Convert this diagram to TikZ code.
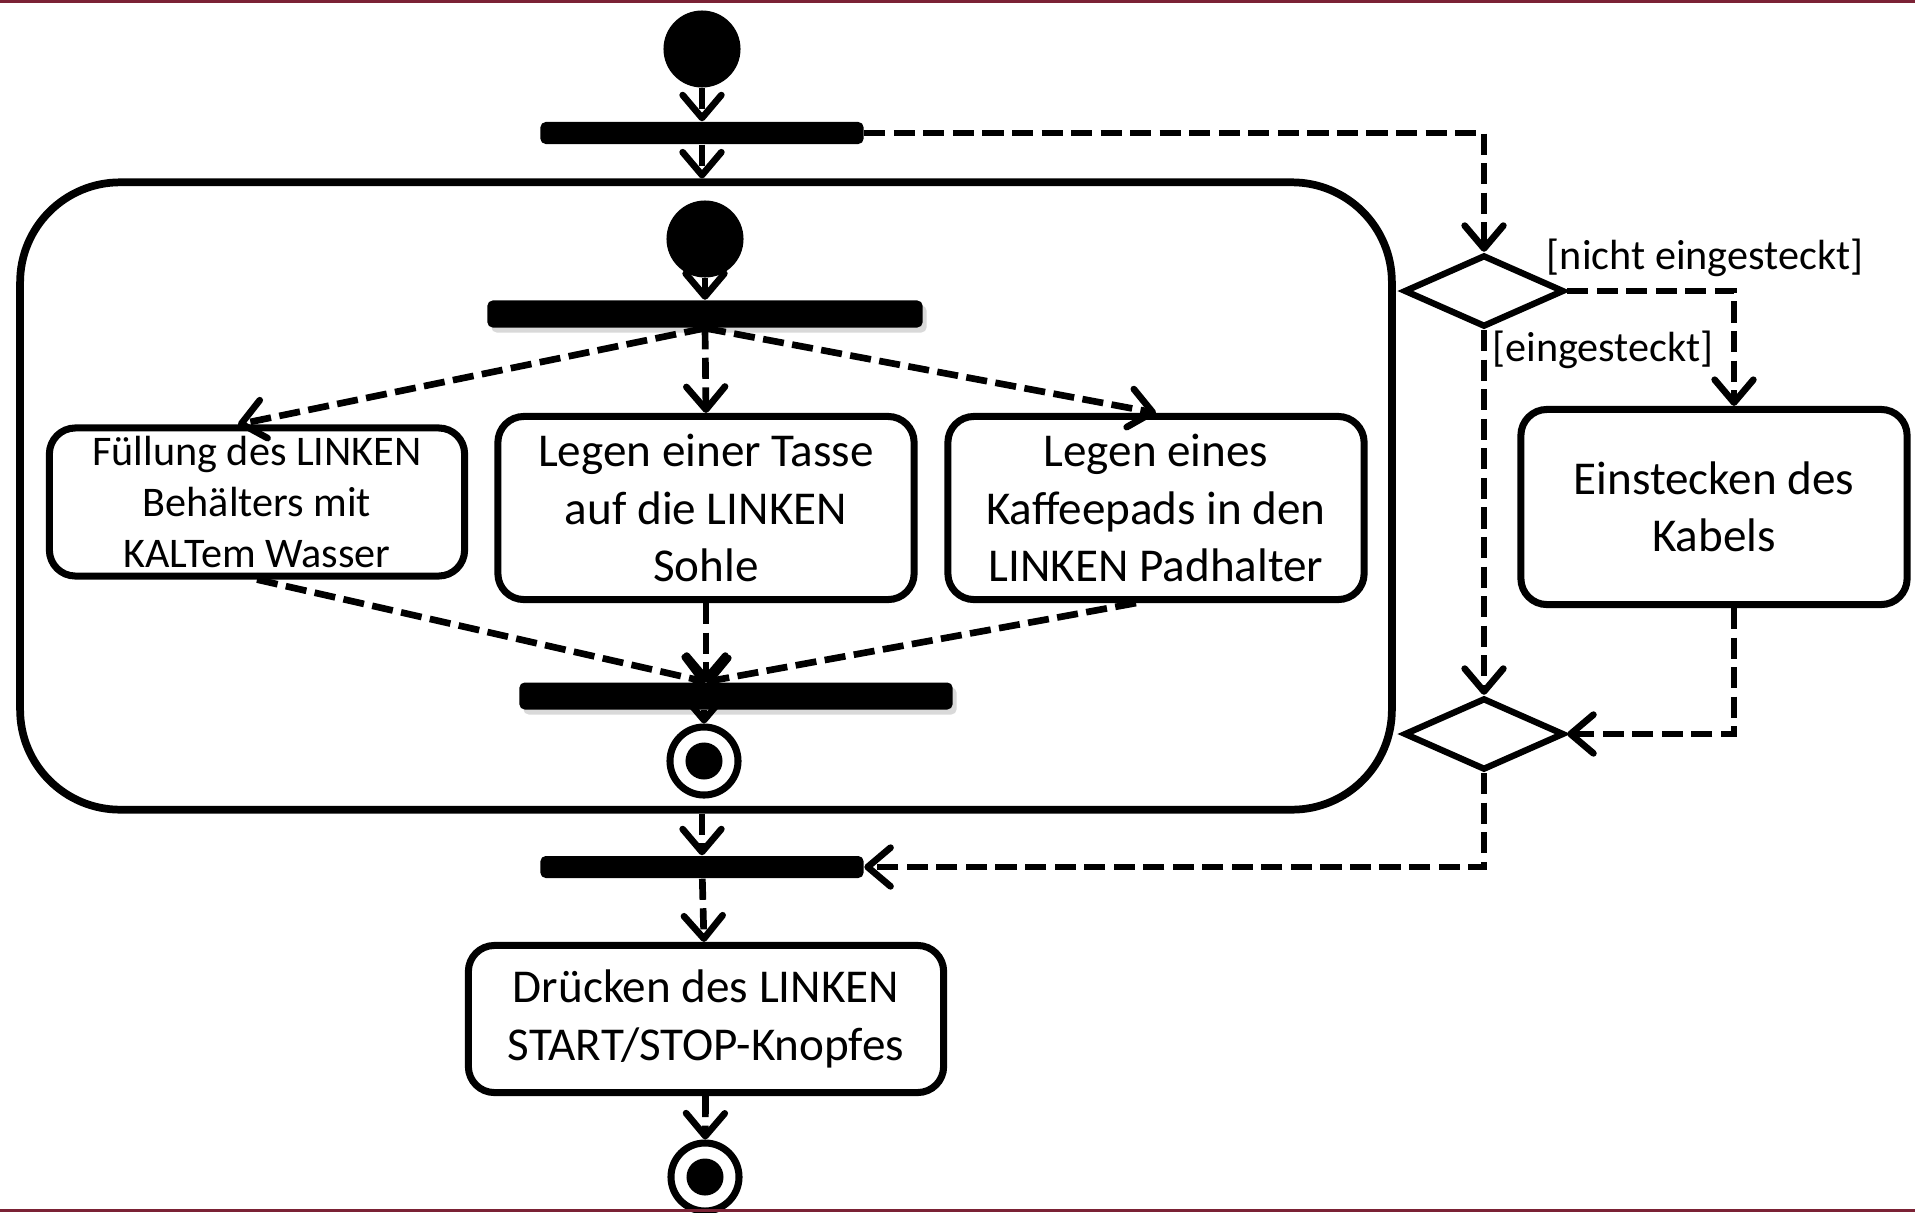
\documentclass[tikz,border=0pt]{standalone}
\usepackage{fontspec}
\setmainfont{Carlito}
\usetikzlibrary{arrows.meta,shapes.geometric,shadows}
\definecolor{framered}{RGB}{123,34,53}
\newcommand{\actsize}{\fontsize{13.4}{16.3}\selectfont}
\newcommand{\smallact}{\fontsize{12}{14.4}\selectfont}
\begin{document}
\begin{tikzpicture}[x=0.01cm,y=-0.01cm,
  action/.style={draw, line width=2pt, rounded corners=0.26cm, align=center, inner sep=0pt, font=\actsize},
  syncbar/.style={fill=black, inner sep=0pt, rounded corners=1.5pt},
  shadowbar/.style={syncbar, drop shadow={shadow xshift=0.04cm, shadow yshift=-0.05cm, opacity=0.3}},
  startdot/.style={circle, fill=black, inner sep=0pt, minimum size=0.77cm},
  enddot/.style={circle, draw, line width=2pt, inner sep=0pt, minimum size=0.68cm,
    path picture={\fill (path picture bounding box.center) circle (0.185cm);}},
  choice/.style={diamond, draw, line width=1.8pt, inner sep=0pt, minimum width=1.6cm, minimum height=0.72cm},
  guard/.style={font=\fontsize{12}{14.4}\selectfont, inner sep=0pt},
  flow/.style={line width=1.9pt, dash pattern=on 6pt off 2.4pt, -{Straight Barb[length=6.5pt,width=11pt,round]}}]
  \useasboundingbox (0,0) rectangle (1915,1212);

  \node[startdot] (start) at (702,49) {};
  \node[syncbar, minimum width=3.23cm, minimum height=0.22cm] (split) at (702,133) {};
  \node[draw, line width=2.2pt, rounded corners=1cm, minimum width=13.71cm, minimum height=6.27cm] (frame) at (706,496) {};

  \node[startdot] (start2) at (705,239) {};
  \node[shadowbar, minimum width=4.35cm, minimum height=0.27cm] (fork) at (705,314) {};
  \node[action, font=\smallact, minimum width=4.15cm, minimum height=1.48cm] (fill) at (257,502) {Füllung des LINKEN\\Behälters mit\\KALTem Wasser};
  \node[action, minimum width=4.16cm, minimum height=1.83cm] (cup) at (706,508) {Legen einer Tasse\\auf die LINKEN\\Sohle};
  \node[action, minimum width=4.16cm, minimum height=1.83cm] (pad) at (1156,508) {Legen eines\\Kaffeepads in den\\LINKEN Padhalter};
  \node[shadowbar, minimum width=4.33cm, minimum height=0.27cm] (join) at (736,696) {};
  \node[enddot] (stop1) at (704,761) {};

  \node[syncbar, minimum width=3.23cm, minimum height=0.22cm] (merge) at (702,867) {};
  \node[action, minimum width=4.75cm, minimum height=1.47cm] (press) at (706,1019) {Drücken des LINKEN\\START/STOP-Knopfes};
  \node[enddot] (stop2) at (705,1177) {};

  \node[choice] (plugcheck) at (1484,291) {};
  \node[choice] (plugdone) at (1484,734) {};
  \node[action, minimum width=3.86cm, minimum height=1.95cm] (plug) at (1714,507) {Einstecken des\\Kabels};
  \node[guard] (gno) at (1705,258) {[nicht eingesteckt]};
  \node[guard] (gyes) at (1603,350) {[eingesteckt]};

  \draw[flow] (start) -- (split);
  \draw[flow] (split) -- (split |- frame.north);
  \draw[flow] (start2) -- (fork);
  \draw[flow] (fork.south) -- ([xshift=-0.19cm]fill.north);
  \draw[flow] (fork.south) -- (cup.north);
  \draw[flow] (fork.south) -- (pad.north);
  \draw[flow] (fill.south) -- (cup |- join.north);
  \draw[flow] (cup.south) -- (cup |- join.north);
  \draw[flow] ([xshift=-0.2cm]pad.south) -- (cup |- join.north);
  \draw[flow] (stop1 |- join.south) -- (stop1);
  \draw[flow] (merge |- frame.south) -- (merge);
  \draw[flow] (merge) -- (press);
  \draw[flow] (press) -- (stop2);

  \draw[flow] (split.east) -| (plugcheck.north);
  \draw[flow] (plugcheck.east) -| ([xshift=0.2cm]plug.north);
  \draw[flow] (plugcheck.south) -- (plugdone.north);
  \draw[flow] ([xshift=0.2cm]plug.south) |- (plugdone.east);
  \draw[flow] (plugdone.south) |- (merge.east);

  \fill[framered] (0,0) rectangle (1915,3);
  \fill[framered] (0,1209) rectangle (1915,1212);
\end{tikzpicture}
\end{document}
